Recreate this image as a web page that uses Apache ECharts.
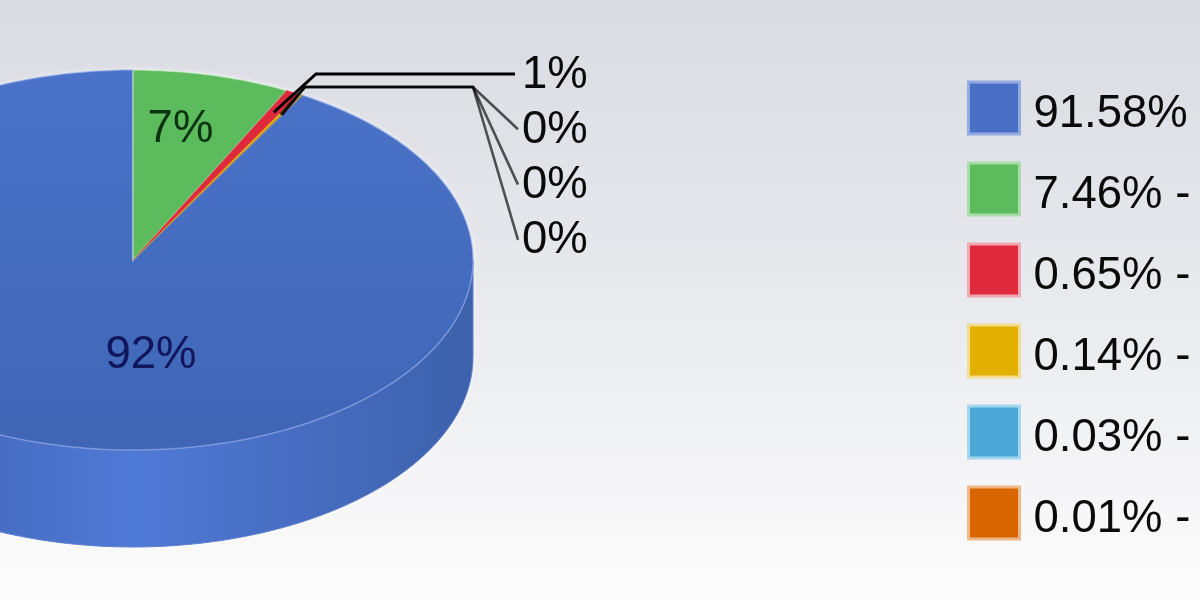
<!DOCTYPE html>
<html><head><meta charset="utf-8">
<style>html,body{margin:0;padding:0;background:#fff}#c{width:1200px;height:600px}</style>
<script src="https://cdn.jsdelivr.net/npm/echarts@6/dist/echarts.min.js"></script>
</head><body><div id="c"></div>
<script>
const legendLabels = ['91.58%', '7.46% -', '0.65% -', '0.14% -', '0.03% -', '0.01% -'];
const values = [91.58, 7.46, 0.65, 0.14, 0.03, 0.01];
const colors = ['#4a70c6', '#5cbb5c', '#de2a3c', '#e2b000', '#4ba8d6', '#d96500'];
const borders = ['#92a9e2', '#a8dca8', '#f2a8b0', '#f2dc90', '#a4d6ee', '#f0b888'];

const FONT = '"Liberation Sans", Arial, sans-serif';
const FS = 45.5;
const cx = 133, cy = 260, rx = 340, ry = 190, depth = 97;
const total = values.reduce((a, b) => a + b, 0);
const inner = [[151, 355], [180.5, 129]];          // labels on the pie
const outerX = 522, outerY0 = 75, outerStep = 55.3; // labels outside the pie
const elbowY2 = 87, lineEndX = 518, anchorFrac = 0.88;

function rim(t) { return [cx + rx * Math.sin(t), cy - ry * Math.cos(t)]; }
function arc(a, b) {
  const n = Math.max(2, Math.ceil(Math.abs(b - a) * 60)), pts = [];
  for (let i = 0; i <= n; i++) pts.push(rim(a + (b - a) * i / n));
  return pts;
}
let acc = -values[0];
const spans = values.map(v => { const s = acc; acc += v; return [s / total * 2 * Math.PI, acc / total * 2 * Math.PI]; });

function renderSlice(idx) {
  return function () {
    const [a, b] = spans[idx];
    const children = [];
    if (idx === 0) {
      const front = arc(Math.PI / 2, Math.PI * 3 / 2);
      const low = front.slice().reverse().map(p => [p[0], p[1] + depth]);
      const halo = { fill: '#ffffff', shadowColor: 'rgba(255,255,255,0.9)', shadowBlur: 5 };
      children.push({ type: 'polygon', shape: { points: arc(0, 2 * Math.PI) }, style: halo });
      children.push({ type: 'polygon', shape: { points: front.concat(low) }, style: halo });
      children.push({ type: 'polygon', shape: { points: front.concat(low) }, style: {
        fill: new echarts.graphic.LinearGradient(-207, 0, 473, 0, [
          { offset: 0, color: '#3a5ca6' }, { offset: 0.5, color: '#4f79d6' }, { offset: 1, color: '#3d61ab' }], true),
        stroke: '#5f80cc', lineWidth: 1 } });
    }
    const top = [[cx, cy]].concat(arc(a, b));
    const fill = idx === 0
      ? new echarts.graphic.LinearGradient(0, 70, 0, 450, [{ offset: 0, color: '#4a72c8' }, { offset: 1, color: '#3f66b5' }], true)
      : colors[idx];
    children.push({ type: 'polygon', shape: { points: top }, style: {
      fill, stroke: idx === 0 ? 'rgba(150,175,235,0.6)' : (idx === 1 ? 'rgba(215,240,215,0.6)' : colors[idx]), lineWidth: idx < 2 ? 1.5 : 0.5 } });

    const pct = Math.round(values[idx]) + '%';
    if (idx < 2) {
      children.push({ type: 'text', z2: 20, style: { x: inner[idx][0], y: inner[idx][1], text: pct,
        font: FS + 'px ' + FONT, fill: idx === 0 ? '#10155c' : '#0b3312', align: 'center', verticalAlign: 'middle' } });
    } else {
      const m = rim((a + b) / 2);
      const mid = [cx + (m[0] - cx) * anchorFrac, cy + (m[1] - cy) * anchorFrac];
      const ly = outerY0 + (idx - 2) * outerStep;
      const path = idx === 2
        ? [mid, [316, outerY0 - 1], [515, outerY0 - 1]]
        : [mid, [305, elbowY2], [cx + rx, elbowY2], [lineEndX, ly - 1]];
      children.push({ type: 'polyline', z2: 10, shape: { points: path }, style: {
        fill: null, stroke: idx === 2 ? '#000' : 'rgba(0,0,0,0.65)', lineWidth: idx === 2 ? 3 : 2.6 } });
      children.push({ type: 'text', z2: 20, style: { x: outerX, y: ly, text: pct,
        font: FS + 'px ' + FONT, fill: '#0a0a0a', align: 'left', verticalAlign: 'middle' } });
    }
    return { type: 'group', children };
  };
}

const chart = echarts.init(document.getElementById('c'), null, { renderer: 'canvas' });
chart.setOption({
  animation: false,
  backgroundColor: new echarts.graphic.LinearGradient(0, 0, 0, 1, [
    { offset: 0, color: '#d9dbe2' }, { offset: 0.5, color: '#e9eaee' }, { offset: 1, color: '#fcfcfc' }]),
  legend: {
    orient: 'vertical', left: 967, top: 79, itemWidth: 51, itemHeight: 52, itemGap: 23,
    icon: 'rect', selectedMode: false, padding: 0,
    formatter: name => '{a|' + name + '}',
    textStyle: { rich: { a: { fontFamily: FONT, fontSize: FS, color: '#0a0a0a', lineHeight: 52, padding: [12, 0, 0, 9] } } },
    data: legendLabels.map((name, i) => ({ name, itemStyle: { borderColor: borders[i], borderWidth: 3 } }))
  },
  series: values.map((v, i) => ({
    type: 'custom', name: legendLabels[i], coordinateSystem: 'none', silent: true,
    itemStyle: { color: colors[i] }, clip: false,
    renderItem: renderSlice(i), data: [[v]]
  }))
});
</script></body></html>
